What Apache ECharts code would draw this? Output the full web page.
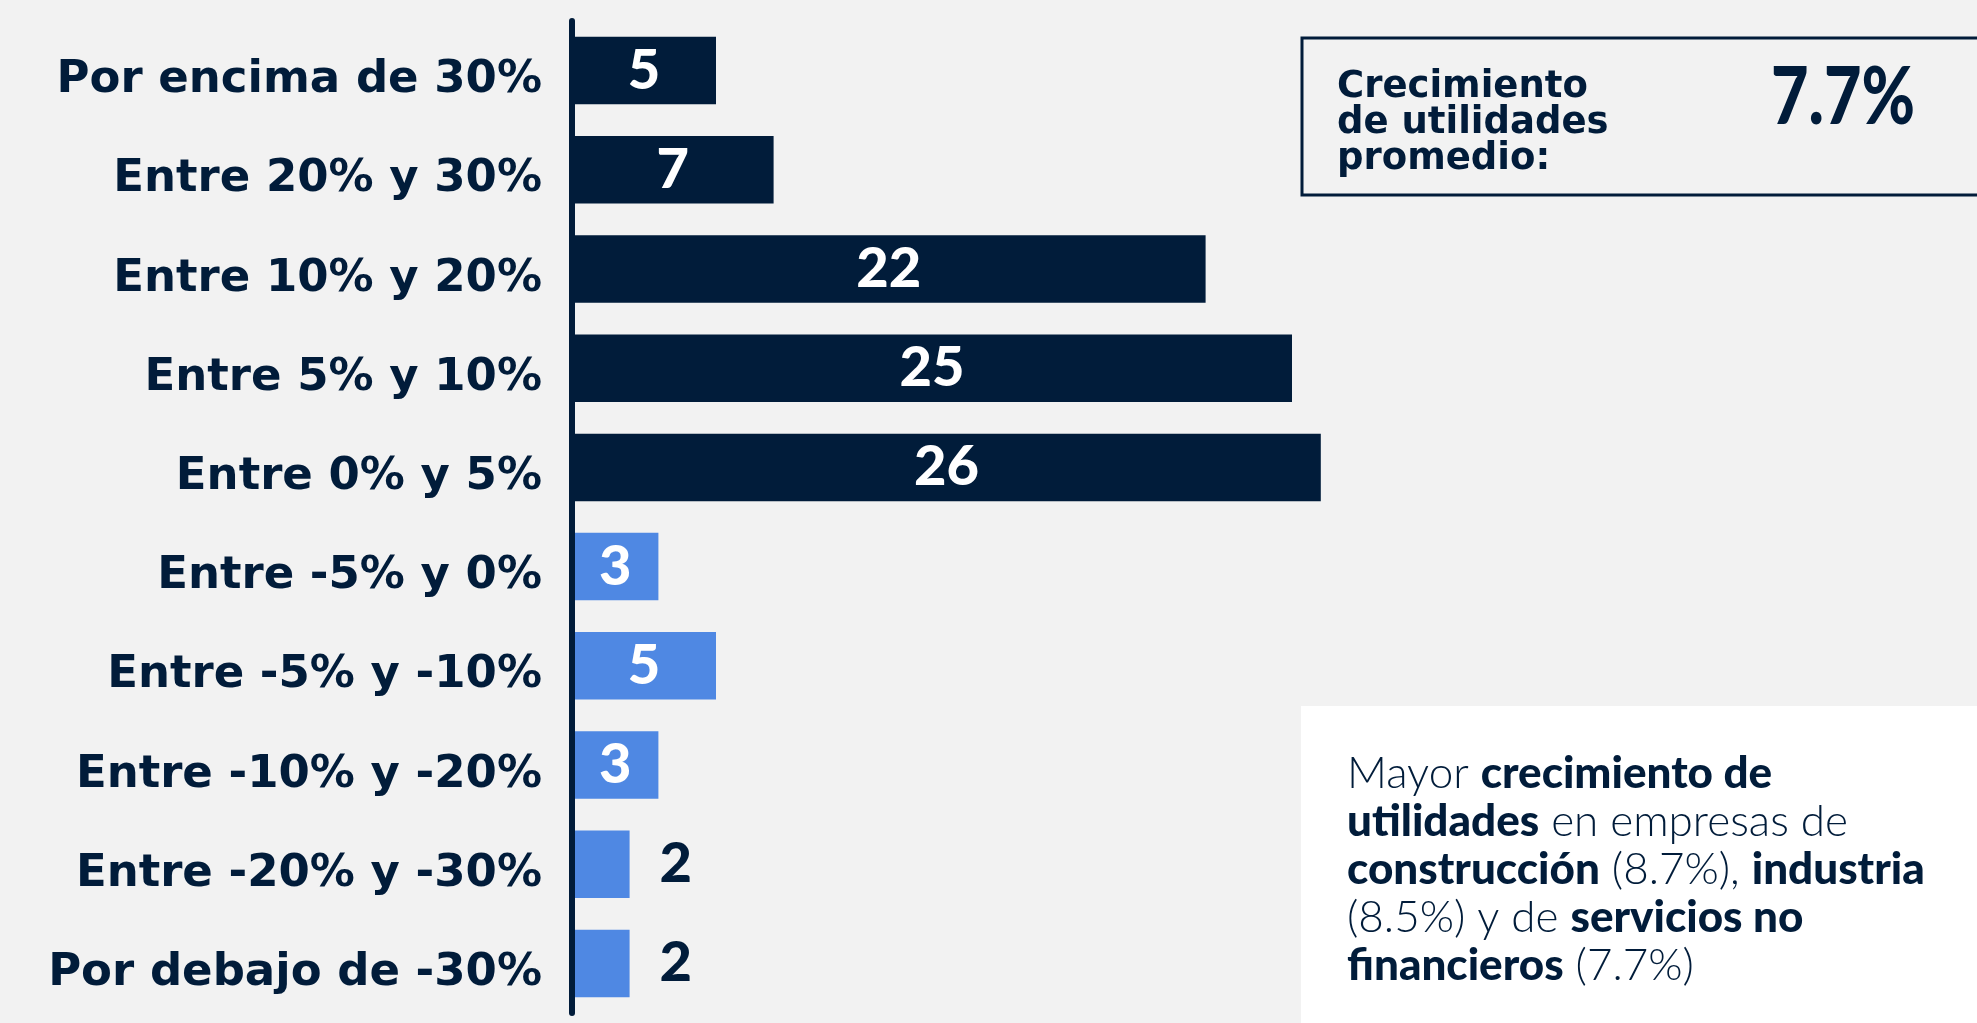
<!DOCTYPE html>
<html>
<head>
  <meta charset="utf-8" />
  <title>Crecimiento de utilidades</title>
  <script src="https://cdn.jsdelivr.net/npm/echarts@6/dist/echarts.min.js"></script>
  <style>
    html, body { margin: 0; padding: 0; background: #f2f2f2; }
  </style>
</head>
<body>
<div id="main" style="width: 1977px;height:1023px;"></div>
<script type="text/javascript">
  // rangos de crecimiento (de arriba hacia abajo)
  var categories = ['Por encima de 30%', 'Entre 20% y 30%', 'Entre 10% y 20%', 'Entre 5% y 10%', 'Entre 0% y 5%',
    'Entre -5% y 0%', 'Entre -5% y -10%', 'Entre -10% y -20%', 'Entre -20% y -30%', 'Por debajo de -30%'];
  var counts = [5, 7, 22, 25, 26, 3, 5, 3, 2, 2];
  var positiveCount = 5; // las primeras 5 filas son crecimiento positivo
  var promedio = '7.7%';

  var navy = '#011c3a';
  var blue = '#4f88e3';

  var barData = counts.map(function (v, i) {
    var small = v < 3;
    return {
      value: v,
      itemStyle: { color: i < positiveCount ? navy : blue },
      label: {
        position: small ? 'right' : 'inside',
        distance: small ? 30 : 5,
        color: small ? navy : '#ffffff'
      }
    };
  });

  var myChart = echarts.init(document.getElementById('main'));
  var option = {
    backgroundColor: '#f2f2f2',
    animation: false,
    grid: { left: 572, top: 21, bottom: 10, right: 253 },
    xAxis: {
      type: 'value', min: 0, max: 40,
      show: false
    },
    yAxis: {
      type: 'category',
      data: categories,
      inverse: true,
      z: 5,
      axisLine: { lineStyle: { color: navy, width: 6 } },
      axisTick: { show: false },
      axisLabel: {
        margin: 30,
        verticalAlign: 'top',
        lineHeight: 20,
        color: navy,
        fontFamily: 'DejaVu Sans',
        fontWeight: 'bold',
        fontSize: 45
      }
    },
    series: [{
      type: 'bar',
      data: barData,
      barCategoryGap: '32%',
      label: {
        show: true,
        fontFamily: 'Lato',
        fontWeight: 900,
        fontSize: 56
      }
    }],
    graphic: [
      {
        type: 'rect',
        shape: { x: 1302, y: 38, width: 720, height: 157 },
        style: { fill: 'none', stroke: navy, lineWidth: 3 }
      },
      {
        type: 'text',
        x: 1337, y: 69,
        style: {
          text: 'Crecimiento\nde utilidades\npromedio:',
          fill: navy,
          fontFamily: 'DejaVu Sans',
          fontWeight: 'bold',
          fontSize: 37,
          lineHeight: 36
        }
      },
      {
        type: 'text',
        x: 1771, y: 58,
        scaleX: 0.81,
        style: {
          text: promedio,
          fill: navy,
          fontFamily: 'Lato',
          fontWeight: 900,
          fontSize: 80
        }
      },
      {
        type: 'rect',
        shape: { x: 1301, y: 706, width: 720, height: 400 },
        style: { fill: '#ffffff' }
      },
      {
        type: 'text',
        x: 1347, y: 750,
        style: {
          text: '{l|Mayor }{b|crecimiento de}\n{b|utilidades}{l| en empresas de}\n{b|construcción}{l| (8.7%), }{b|industria}\n{l|(8.5%) y de }{b|servicios no}\n{b|financieros}{l| (7.7%)}',
          fill: navy,
          lineHeight: 48,
          rich: {
            l: { fontFamily: 'Lato', fontWeight: 300, fontSize: 44, lineHeight: 48, fill: navy },
            b: { fontFamily: 'Lato', fontWeight: 900, fontSize: 44, lineHeight: 48, fill: navy }
          }
        }
      }
    ]
  };
  myChart.setOption(option);
</script>
</body>
</html>
